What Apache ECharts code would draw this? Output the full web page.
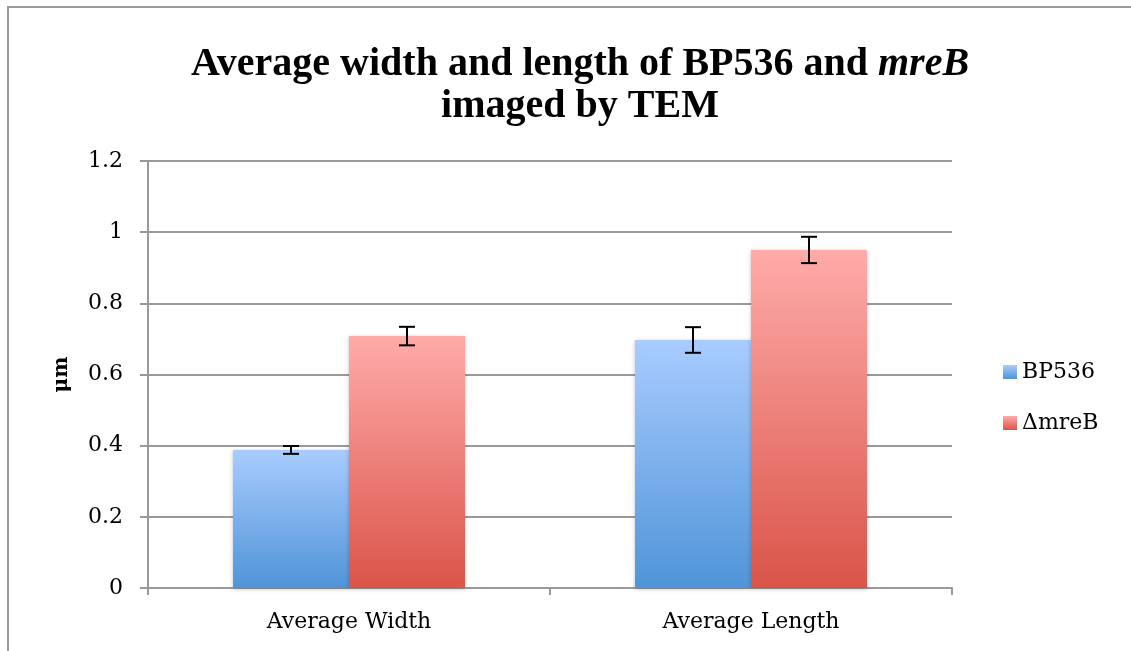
<!DOCTYPE html>
<html>
<head>
<meta charset="utf-8">
<script src="https://cdn.jsdelivr.net/npm/echarts@6/dist/echarts.min.js"></script>
<style>
  html, body { margin: 0; padding: 0; background: #fff; }
  #chart { width: 1131px; height: 651px; }
</style>
</head>
<body>
<div id="chart"></div>
<script>
// data
var categories = ['Average Width', 'Average Length'];
var seriesNames = ['BP536', '\u0394mreB'];
var bp536 = [0.388, 0.697];
var bp536Err = [0.011, 0.036];
var mreB = [0.708, 0.950];
var mreBErr = [0.026, 0.037];
var yTicks = [0, 0.2, 0.4, 0.6, 0.8, 1, 1.2];

var serif = '"Liberation Serif", "DejaVu Serif", serif';
var labelFont = '"DejaVu Serif", serif';

var chart = echarts.init(document.getElementById('chart'));

function grad(top, bottom) {
    return new echarts.graphic.LinearGradient(0, 0, 0, 1, [
        { offset: 0, color: top },
        { offset: 1, color: bottom }
    ]);
}
var blueFill = grad('#a9ccff', '#4f94d8');
var redFill = grad('#ffaba9', '#da5449');

// error bar drawn as custom series, offset to the bar's centre
function errorSeries(vals, errs, idx) {
    var data = vals.map(function (v, i) { return [i, v - errs[i], v + errs[i]]; });
    return {
        type: 'custom',
        name: 'err' + idx,
        z: 10,
        renderItem: function (params, api) {
            var lo = api.coord([api.value(0), api.value(1)]);
            var hi = api.coord([api.value(0), api.value(2)]);
            var band = api.size([1, 0])[0];
            var barW = band * 0.2885;
            var x = lo[0] + (idx === 0 ? -barW / 2 : barW / 2);
            var cap = 8;
            var st = { stroke: '#000', lineWidth: 2 };
            return {
                type: 'group',
                children: [
                    { type: 'line', shape: { x1: x, y1: lo[1], x2: x, y2: hi[1] }, style: st },
                    { type: 'line', shape: { x1: x - cap, y1: lo[1], x2: x + cap, y2: lo[1] }, style: st },
                    { type: 'line', shape: { x1: x - cap, y1: hi[1], x2: x + cap, y2: hi[1] }, style: st }
                ]
            };
        },
        data: data
    };
}

var option = {
    animation: false,
    backgroundColor: '#fff',
    title: {
        text: 'Average width and length of BP536 and {i|mreB}\nimaged by TEM',
        left: 575,
        textAlign: 'center',
        top: 39,
        textStyle: {
            fontFamily: serif,
            fontWeight: 'bold',
            fontSize: 40,
            lineHeight: 42,
            color: '#000',
            rich: {
                i: { fontFamily: serif, fontWeight: 'bold', fontStyle: 'italic', fontSize: 40, lineHeight: 42, color: '#000' }
            }
        }
    },
    legend: {
        orient: 'vertical',
        left: 998,
        top: 356,
        itemGap: 29,
        itemWidth: 14,
        itemHeight: 14,
        icon: 'rect',
        data: [
            { name: seriesNames[0], itemStyle: { color: grad('#a9ccff', '#4f94d8') } },
            { name: seriesNames[1], itemStyle: { color: grad('#ffaba9', '#da5449') } }
        ],
        textStyle: { fontFamily: labelFont, fontSize: 22, color: '#000' }
    },
    grid: { left: 148, right: 179, top: 161, bottom: 63 },
    xAxis: {
        type: 'category',
        data: categories,
        axisLine: { lineStyle: { color: '#999', width: 2 } },
        axisTick: { show: true, length: 7, lineStyle: { color: '#999', width: 2 } },
        axisLabel: { fontFamily: labelFont, fontSize: 22, color: '#000', margin: 23 }
    },
    yAxis: {
        type: 'value',
        min: 0,
        max: 1.2,
        interval: 0.2,
        name: '\u03bcm',
        nameLocation: 'middle',
        nameGap: 76,
        nameTextStyle: { fontFamily: labelFont, fontSize: 20, fontWeight: 'bold', color: '#000' },
        axisLine: { show: true, lineStyle: { color: '#999', width: 2 } },
        axisTick: { show: true, length: 8, lineStyle: { color: '#999', width: 2 } },
        axisLabel: {
            fontFamily: labelFont, fontSize: 22, color: '#000', margin: 25,
            padding: [6, 0, 0, 0],
            formatter: function (v) {
                var t = yTicks.filter(function (k) { return Math.abs(k - v) < 1e-9; })[0];
                return t === undefined ? '' : String(t);
            }
        },
        splitLine: { lineStyle: { color: '#999', width: 2 } }
    },
    series: [
        {
            type: 'bar',
            name: seriesNames[0],
            data: bp536,
            barGap: '0%',
            barCategoryGap: '42.3%',
            itemStyle: { color: blueFill, shadowColor: 'rgba(0,0,0,0.25)', shadowBlur: 4, shadowOffsetY: 1 }
        },
        {
            type: 'bar',
            name: seriesNames[1],
            data: mreB,
            barGap: '0%',
            barCategoryGap: '42.3%',
            itemStyle: { color: redFill, shadowColor: 'rgba(0,0,0,0.25)', shadowBlur: 4, shadowOffsetY: 1 }
        },
        errorSeries(bp536, bp536Err, 0),
        errorSeries(mreB, mreBErr, 1)
    ],
    graphic: [
        {
            type: 'rect',
            shape: { x: 8, y: 7, width: 1200, height: 700 },
            style: { fill: 'none', stroke: '#999', lineWidth: 2 },
            silent: true
        }
    ]
};

chart.setOption(option);
</script>
</body>
</html>
